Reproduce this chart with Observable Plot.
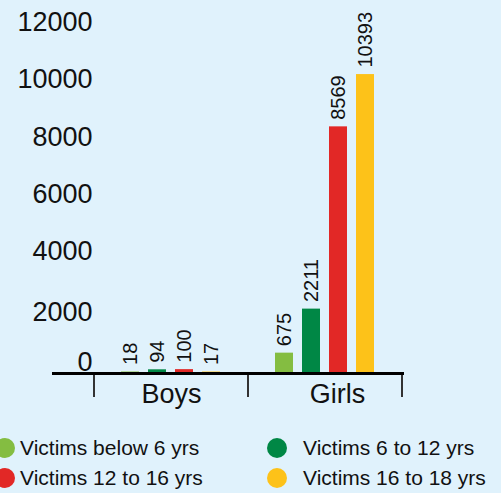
<!DOCTYPE html>
<html>
<head>
<meta charset="utf-8">
<script src="https://cdn.jsdelivr.net/npm/d3@7"></script>
<script src="https://cdn.jsdelivr.net/npm/@observablehq/plot@0.6"></script>
<style>
  html, body { margin: 0; padding: 0; background: #e0f2fc; }
  body { width: 501px; height: 493px; overflow: hidden; font-family: "Liberation Sans", Arial, sans-serif; }
  #chart { position: relative; width: 501px; }
  #legend { position: relative; width: 501px; height: 83px; }
  .item { position: absolute; display: flex; align-items: center; font-size: 21px; color: #111; white-space: nowrap; }
  .dot { width: 20px; height: 20px; border-radius: 50%; flex: none; }
</style>
</head>
<body>
<div id="chart"></div>
<div id="legend"></div>
<script>
const groups = ["Boys", "Girls"];
const series = ["Victims below 6 yrs", "Victims 6 to 12 yrs", "Victims 12 to 16 yrs", "Victims 16 to 18 yrs"];
const boysValues = [18, 94, 100, 17];
const girlsValues = [675, 2211, 8569, 10393];
const seriesColors = ["#84bd41", "#008745", "#e22826", "#fdc219"];
const yTicks = [0, 2000, 4000, 6000, 8000, 10000, 12000];

const rows = [];
series.forEach((s, i) => rows.push({group: "Boys", series: s, value: boysValues[i]}));
series.forEach((s, i) => rows.push({group: "Girls", series: s, value: girlsValues[i]}));

const H = 410;
const axisFont = 27;
const plot = Plot.plot({
  width: 501,
  height: H,
  marginLeft: 93,
  marginRight: 99,
  marginTop: 28,
  marginBottom: 38,
  style: {background: "transparent", fontSize: axisFont + "px", fontFamily: "'Liberation Sans', Arial, sans-serif", color: "#111", overflow: "visible"},
  facet: {data: rows, x: "group"},
  fx: {domain: groups, padding: 0, axis: null},
  x: {domain: series, paddingInner: 0.32, paddingOuter: 0.92, axis: null},
  y: {domain: [0, 12000], axis: null},
  color: {domain: series, range: seriesColors},
  marks: [
    Plot.barY(rows, {x: "series", y: "value", fill: "series"}),
    Plot.text(rows, {x: "series", y: "value", text: d => String(d.value), rotate: -90, textAnchor: "start", dy: -7, fontSize: 20, fill: "#111"}),
    Plot.axisY({ticks: yTicks.slice(2), tickSize: 0, tickPadding: 2, dy: -6, fontSize: axisFont, tickFormat: d => String(d), label: null}),
    Plot.axisY({ticks: [yTicks[1]], tickSize: 0, tickPadding: 2, dy: -3, fontSize: axisFont, tickFormat: d => String(d), label: null}),
    Plot.axisY({ticks: [yTicks[0]], tickSize: 0, tickPadding: 2, dy: -10, fontSize: axisFont, tickFormat: d => String(d), label: null}),
    Plot.axisFx({ticks: [groups[0]], anchor: "bottom", tickSize: 0, tickPadding: 11, fontSize: axisFont, label: null}),
    Plot.axisFx({ticks: [groups[1]], anchor: "bottom", tickSize: 0, tickPadding: 11, dx: 12, fontSize: axisFont, label: null})
  ]
});
document.getElementById("chart").appendChild(plot);

// baseline and group separators drawn from the plot's own scales
const svg = d3.select(plot);
const y0 = plot.scale("y").apply(0);
const fx = plot.scale("fx");
const bounds = groups.map(g => fx.apply(g)).concat([fx.apply(groups[groups.length - 1]) + fx.bandwidth]);
svg.append("line")
  .attr("x1", 52).attr("x2", bounds[bounds.length - 1] + 2)
  .attr("y1", y0 + 1.5).attr("y2", y0 + 1.5)
  .attr("stroke", "#000").attr("stroke-width", 3);
svg.selectAll("line.sep").data(bounds).join("line")
  .attr("class", "sep")
  .attr("x1", d => d).attr("x2", d => d)
  .attr("y1", y0 + 3).attr("y2", y0 + 25)
  .attr("stroke", "#333").attr("stroke-width", 2);

// legend
const legend = document.getElementById("legend");
const colCenters = [5, 277];
const textGap = [5, 16];
const rowCenters = [448 - H, 478 - H];
const order = [[0, 0, 0], [1, 1, 0], [2, 0, 1], [3, 1, 1]];
order.forEach(([i, col, row]) => {
  const it = document.createElement("div");
  it.className = "item";
  it.style.left = (colCenters[col] - 10) + "px";
  it.style.top = (rowCenters[row] - 12) + "px";
  it.style.height = "24px";
  const dot = document.createElement("span");
  dot.className = "dot";
  dot.style.background = seriesColors[i];
  dot.style.marginRight = textGap[col] + "px";
  const t = document.createElement("span");
  t.textContent = series[i];
  it.appendChild(dot);
  it.appendChild(t);
  legend.appendChild(it);
});
</script>
</body>
</html>
